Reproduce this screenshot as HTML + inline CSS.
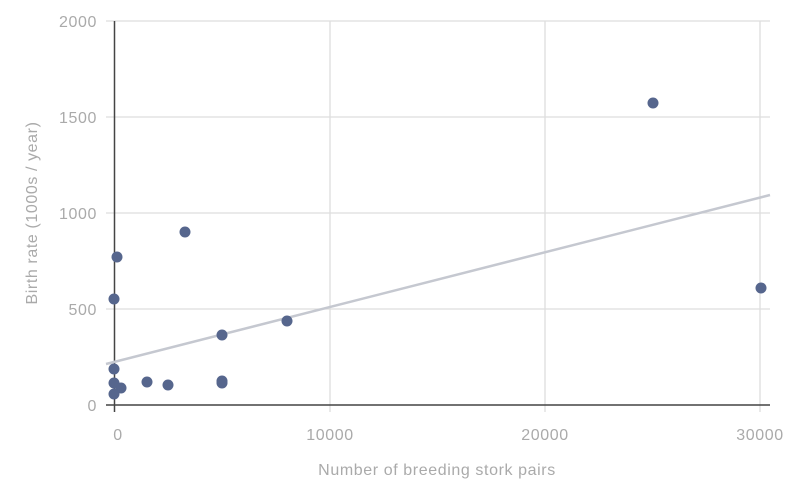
<!DOCTYPE html><html><head><style>body{margin:0;background:#fff}</style></head><body>
<svg width="796" height="486" xmlns="http://www.w3.org/2000/svg" font-family="Liberation Sans, sans-serif" font-size="16" letter-spacing="0.6" fill="#aaa">
<g stroke="#ddd" stroke-width="1.3">
<line x1="106" y1="21" x2="770" y2="21"/><line x1="106" y1="117" x2="770" y2="117"/><line x1="106" y1="213" x2="770" y2="213"/><line x1="106" y1="309" x2="770" y2="309"/>
<line x1="330" y1="21" x2="330" y2="412"/><line x1="545" y1="21" x2="545" y2="412"/><line x1="760" y1="21" x2="760" y2="412"/>
</g>
<line x1="114.5" y1="21" x2="114.5" y2="412" stroke="#444" stroke-width="1.5"/>
<line x1="106" y1="405" x2="770" y2="405" stroke="#444" stroke-width="1.5"/>
<line x1="106" y1="364" x2="770" y2="195" stroke="#c5c8d0" stroke-width="2.5"/>
<g text-anchor="end"><text x="97" y="27">2000</text><text x="97" y="123">1500</text><text x="97" y="219">1000</text><text x="97" y="315">500</text><text x="97" y="411">0</text></g>
<g text-anchor="middle"><text x="118" y="440">0</text><text x="330" y="440">10000</text><text x="545" y="440">20000</text><text x="760" y="440">30000</text>
<text x="437" y="475">Number of breeding stork pairs</text>
<text transform="translate(37,213) rotate(-90)">Birth rate (1000s / year)</text></g>
<g fill="#56668d">
<circle cx="653" cy="103" r="5.5"/><circle cx="185" cy="232" r="5.5"/><circle cx="117" cy="257" r="5.5"/><circle cx="114" cy="299" r="5.5"/><circle cx="222" cy="335" r="5.5"/><circle cx="287" cy="321" r="5.5"/><circle cx="761" cy="288" r="5.5"/><circle cx="114" cy="369" r="5.5"/><circle cx="114" cy="383" r="5.5"/><circle cx="121" cy="388" r="5.5"/><circle cx="114" cy="394" r="5.5"/><circle cx="147" cy="382" r="5.5"/><circle cx="168" cy="385" r="5.5"/><circle cx="222" cy="381" r="5.5"/><circle cx="222" cy="383" r="5.5"/>
</g></svg></body></html>
